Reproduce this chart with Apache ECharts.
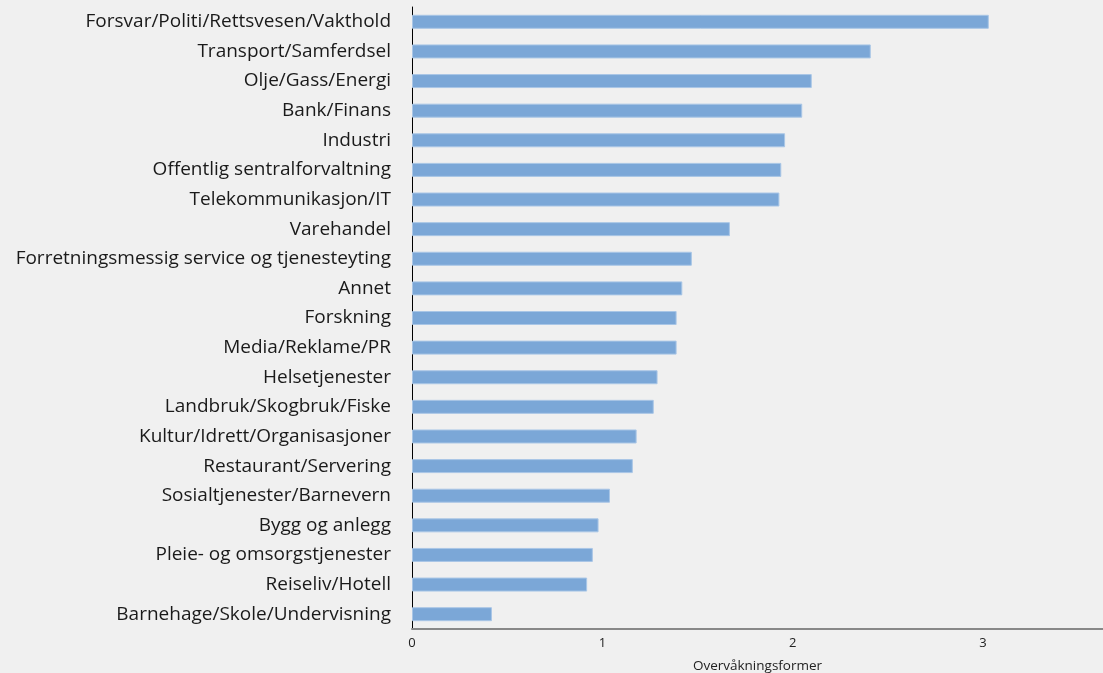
<!DOCTYPE html>
<html>
<head>
<meta charset="utf-8">
<script src="https://cdn.jsdelivr.net/npm/echarts@6/dist/echarts.min.js"></script>
<style>
html,body{margin:0;padding:0;background:#f0f0f0;}
#chart{width:1103px;height:673px;}
</style>
</head>
<body>
<div id="chart"></div>
<script>
var categories = [
  "Forsvar/Politi/Rettsvesen/Vakthold",
  "Transport/Samferdsel",
  "Olje/Gass/Energi",
  "Bank/Finans",
  "Industri",
  "Offentlig sentralforvaltning",
  "Telekommunikasjon/IT",
  "Varehandel",
  "Forretningsmessig service og tjenesteyting",
  "Annet",
  "Forskning",
  "Media/Reklame/PR",
  "Helsetjenester",
  "Landbruk/Skogbruk/Fiske",
  "Kultur/Idrett/Organisasjoner",
  "Restaurant/Servering",
  "Sosialtjenester/Barnevern",
  "Bygg og anlegg",
  "Pleie- og omsorgstjenester",
  "Reiseliv/Hotell",
  "Barnehage/Skole/Undervisning"
];
var values = [3.03, 2.41, 2.10, 2.05, 1.96, 1.94, 1.93, 1.67, 1.47, 1.42, 1.39, 1.39, 1.29, 1.27, 1.18, 1.16, 1.04, 0.98, 0.95, 0.92, 0.42];
var axisName = "Overvåkningsformer";

var chart = echarts.init(document.getElementById('chart'));
chart.setOption({
  backgroundColor: '#f0f0f0',
  animation: false,
  grid: {left: 412, right: 0, top: 7, bottom: 44, containLabel: false, outerBoundsMode: 'none'},
  xAxis: {
    type: 'value', min: 0, max: 3.63, interval: 1,
    name: axisName, nameLocation: 'middle', nameGap: 30,
    nameTextStyle: {fontFamily: 'Open Sans', fontSize: 13.5, color: '#222'},
    axisLine: {show: true, lineStyle: {color: '#888', width: 2}},
    axisTick: {show: false},
    splitLine: {show: false},
    axisLabel: {fontFamily: 'Open Sans', fontSize: 13, color: '#222', margin: 8, showMaxLabel: false}
  },
  yAxis: {
    type: 'category', data: categories, inverse: true,
    axisLine: {show: true, lineStyle: {color: '#000', width: 1}},
    axisTick: {show: false},
    axisLabel: {fontFamily: 'Open Sans', fontSize: 19, color: '#1a1a1a', margin: 21}
  },
  series: [{
    type: 'bar', data: values, barWidth: 14,
    itemStyle: {color: '#7ba7d7', borderColor: '#a9c6e6', borderWidth: 1}
  }]
});
</script>
</body>
</html>
